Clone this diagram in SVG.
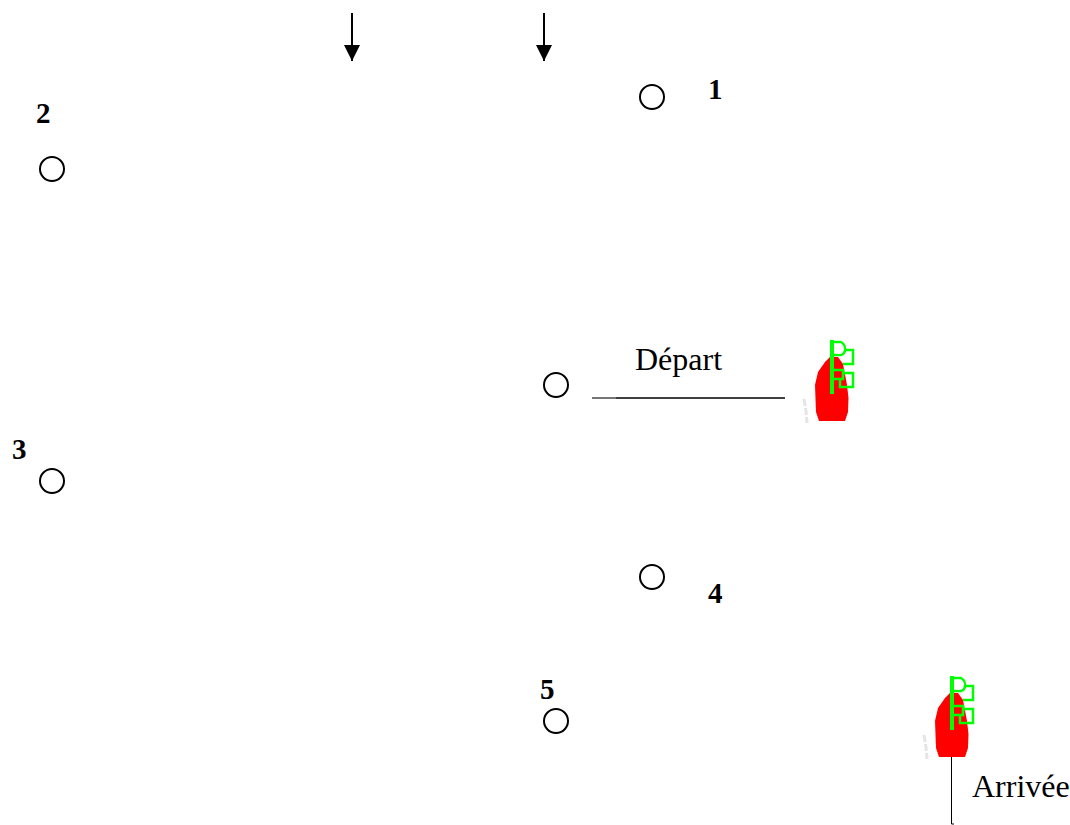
<svg xmlns="http://www.w3.org/2000/svg" width="1070" height="825" viewBox="0 0 1070 825">
<style>
.m{fill:#fff;stroke:#000;stroke-width:2}
.n{font:bold 29px "Liberation Serif",serif;fill:#000}
.t{font:32px "Liberation Serif",serif;fill:#000}
.c{stroke:#000;fill:none}
.g{fill:none;stroke:#0f0;stroke-width:2.500}
</style>
<defs>
<marker id="a" markerUnits="userSpaceOnUse" markerWidth="16" markerHeight="16" refX="16" refY="8" orient="auto" viewBox="0 0 16 16"><path d="M0 0L16 8L0 16Z" fill="#000"/></marker>
<g id="boat">
<path d="M804 399l2 12l1 12" fill="none" stroke="#e4e4e4" stroke-width="3" stroke-dasharray="7 2"/>
<path d="M830 357L838 357L843 364L847 385L848.500 398L848 412L845 421L819 421L816 412L815 385L818 372L825 362Z" fill="#f00"/>
<path d="M832 340V394" stroke="#0f0" stroke-width="4" fill="none"/>
<path class="g" d="M833 342H841Q845 344 845 349Q845 354 841 355H833"/>
<path class="g" d="M843 350H853V364H843"/>
<path class="g" d="M833 370H843V379H833"/>
<path class="g" d="M843 373H853V387H840V379"/>
<circle cx="839" cy="349" r="5" fill="#fff"/>
</g>
</defs>
<g id="connectors">
<path class="c" stroke-width="2" d="M352 13V61" marker-end="url(#a)"/>
<path class="c" stroke-width="2" d="M544 13V61" marker-end="url(#a)"/>
<path class="c" stroke-width="1.500" d="M592 398H785"/>
<path d="M592 398H616" stroke="#888" stroke-width="1.500" fill="none"/>
<path class="c" stroke-width="1" d="M951.500 756V824H954"/>
</g>
<g id="node-1"><circle class="m" cx="652" cy="97" r="12"/><text class="n" x="708" y="99">1</text></g>
<g id="node-2"><circle class="m" cx="52" cy="169" r="12"/><text class="n" x="36" y="123">2</text></g>
<g id="node-3"><circle class="m" cx="52" cy="481" r="12"/><text class="n" x="12" y="459">3</text></g>
<g id="node-4"><circle class="m" cx="652" cy="577" r="12"/><text class="n" x="708" y="603">4</text></g>
<g id="node-5"><text class="n" x="540" y="699">5</text><circle class="m" cx="556" cy="721" r="12"/></g>
<g id="node-depart"><circle class="m" cx="556" cy="385" r="12"/><text class="t" x="635" y="370">Départ</text></g>
<g id="boat-depart"><use href="#boat"/></g>
<g id="boat-arrivee"><use href="#boat" x="120" y="336"/></g>
<g id="label-arrivee"><text class="t" x="972" y="797">Arrivée</text></g>
</svg>
